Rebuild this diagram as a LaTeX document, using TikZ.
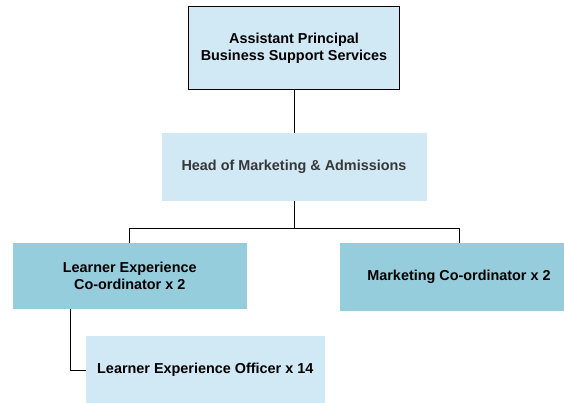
\documentclass[tikz,border=0pt]{standalone}
\usepackage{fontspec}
\setmainfont{Liberation Sans}
\definecolor{lightbox}{RGB}{209,232,245}
\definecolor{darkbox}{RGB}{150,205,220}
\definecolor{headtext}{RGB}{55,55,55}
\tikzset{
  box/.style={inner sep=0pt, align=center, font=\fontsize{14.4}{17.5}\selectfont\bfseries},
  lightfill/.style={box, fill=lightbox},
  darkfill/.style={box, fill=darkbox},
  conn/.style={draw=black, line width=1pt}
}
\begin{document}
\begin{tikzpicture}[x=1pt,y=-1pt]
\useasboundingbox (0,0) rectangle (564,403);
\node[lightfill, draw=black, line width=1pt, minimum width=211pt, minimum height=83pt] (top) at (294,48.5) {Assistant Principal\\Business Support Services};
\node[lightfill, text=headtext, minimum width=265pt, minimum height=68pt, text depth=4pt] (head) at (294,167) {Head of Marketing \& Admissions};
\node[darkfill, minimum width=234.5pt, minimum height=66pt] (lec) at (129.75,276) {Learner Experience\\Co-ordinator x 2};
\node[darkfill, minimum width=238pt, minimum height=68pt] (mc) at (459,277) {Marketing Co-ordinator x 2};
\node[lightfill, minimum width=238.5pt, minimum height=68pt] (leo) at (205.25,370) {Learner Experience Officer x 14};
\coordinate (bar) at (294,228);
\draw[conn] (top.south) -- (head.north);
\draw[conn] (head.south) -- (bar);
\draw[conn] (bar) -| (lec.north);
\draw[conn] (bar) -| (mc.north);
\draw[conn] (lec.south west) ++(58.5,0) |- (leo.west);
\end{tikzpicture}
\end{document}
